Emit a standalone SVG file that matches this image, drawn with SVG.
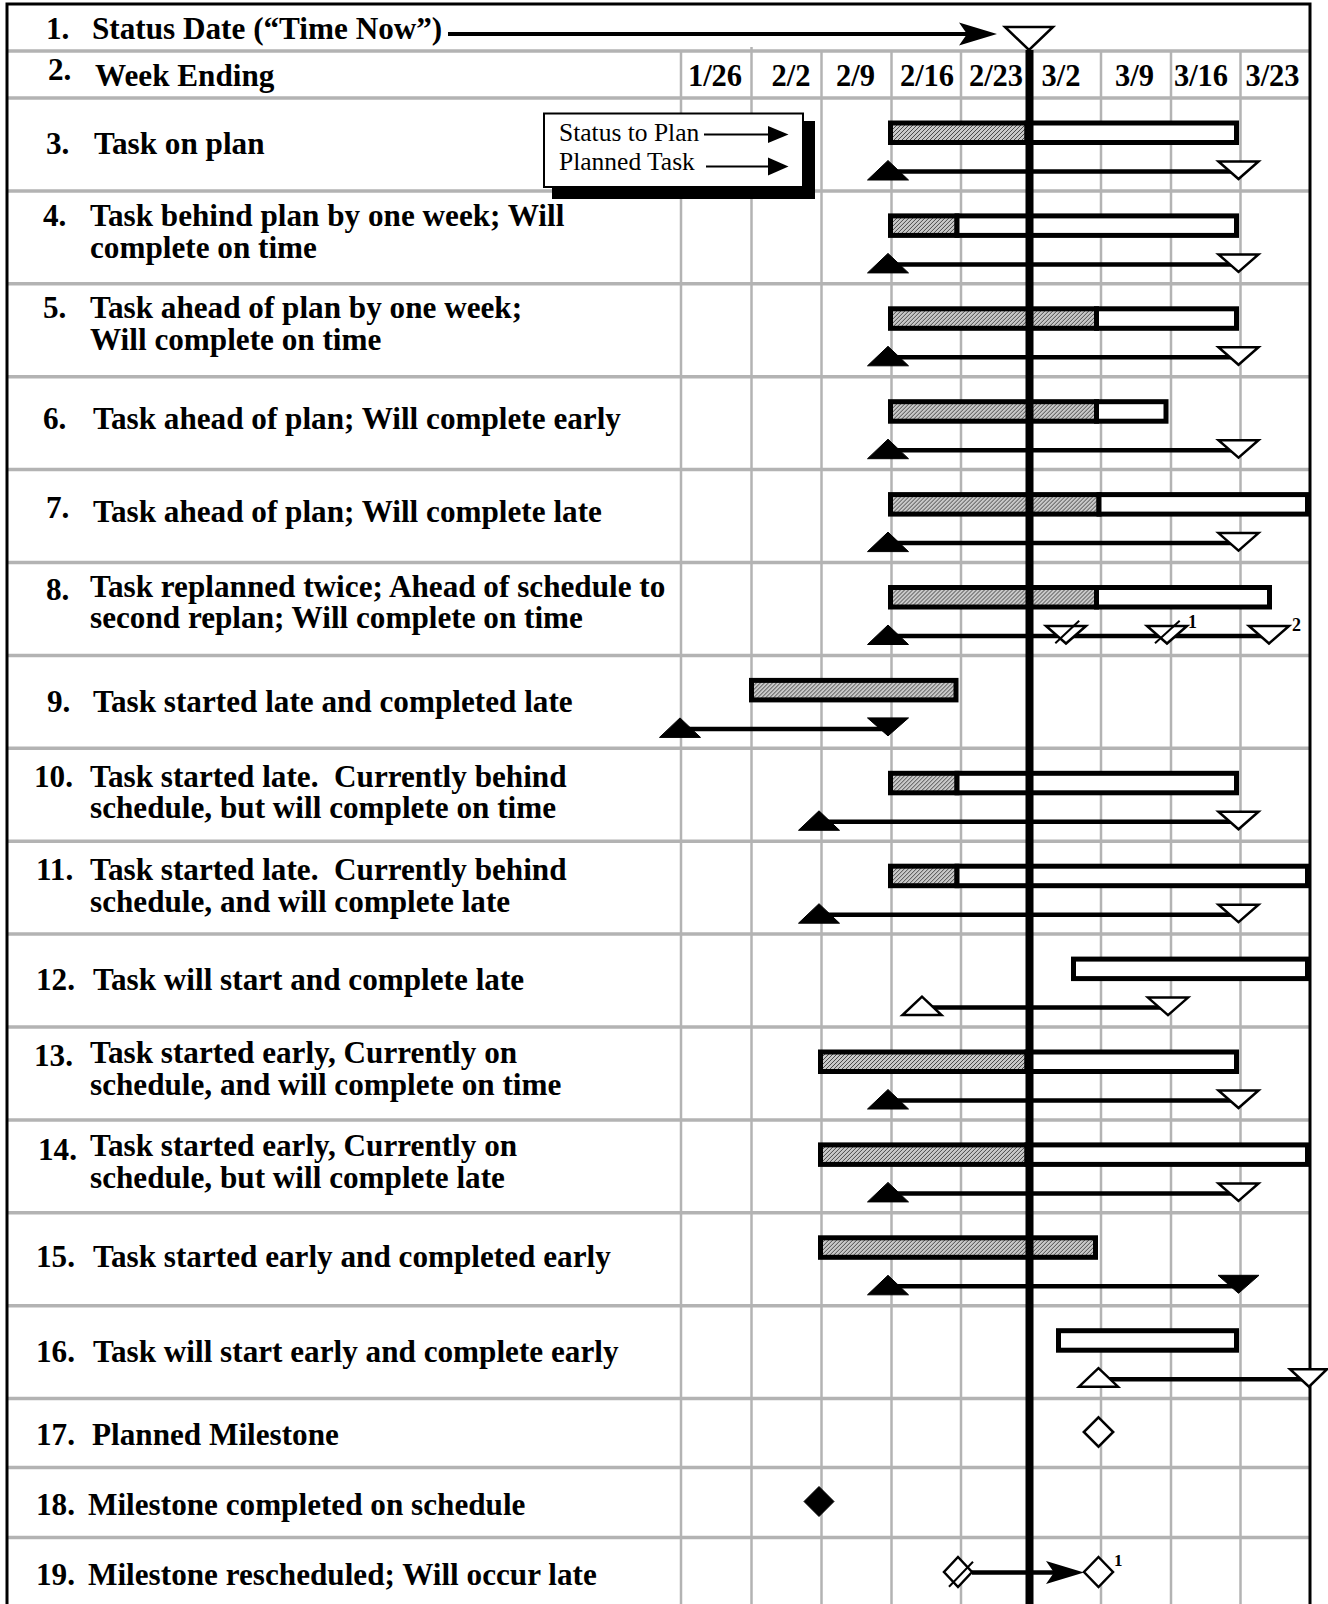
<svg xmlns="http://www.w3.org/2000/svg" width="1328" height="1604" viewBox="0 0 1328 1604">
<defs>
<pattern id="hatch" patternUnits="userSpaceOnUse" width="4" height="4">
<rect width="4" height="4" fill="#c8c8c8"/>
<path d="M-1,1 L1,-1 M0,4 L4,0 M3,5 L5,3" stroke="#4a4a4a" stroke-width="1"/>
</pattern>
<style>
.lbl{font-family:"Liberation Serif","Times New Roman",serif;font-weight:bold;font-size:31.2px;fill:#000;white-space:pre}
.hdr{font-family:"Liberation Serif","Times New Roman",serif;font-weight:bold;font-size:30.5px;fill:#000;text-anchor:middle}
.leg{font-family:"Liberation Serif","Times New Roman",serif;font-size:25.5px;fill:#000}
.sup{font-family:"Liberation Serif","Times New Roman",serif;font-weight:bold;font-size:18px;fill:#000}
.gv{stroke:#b3b3b3;stroke-width:2.5}
.gh{stroke:#b3b3b3;stroke-width:3.5}
.bar{stroke:#000;stroke-width:5;fill:#fff}
.done{fill:url(#hatch)}
.ln{stroke:#000;stroke-width:4.5;fill:none}
.tf{fill:#000;stroke:#000;stroke-width:1;stroke-linejoin:miter}
.to{fill:#fff;stroke:#000;stroke-width:2.5;stroke-linejoin:miter}
.sl{stroke:#000;stroke-width:2}
</style>
</defs>
<rect width="1328" height="1604" fill="#fff"/>
<g id="grid">
<g class="gh">
<line x1="7" y1="51" x2="1310" y2="51"/>
<line x1="7" y1="98" x2="1310" y2="98"/>
<line x1="7" y1="190.9" x2="1310" y2="190.9"/>
<line x1="7" y1="283.8" x2="1310" y2="283.8"/>
<line x1="7" y1="376.7" x2="1310" y2="376.7"/>
<line x1="7" y1="469.6" x2="1310" y2="469.6"/>
<line x1="7" y1="562.5" x2="1310" y2="562.5"/>
<line x1="7" y1="655.4" x2="1310" y2="655.4"/>
<line x1="7" y1="748.3" x2="1310" y2="748.3"/>
<line x1="7" y1="841.2" x2="1310" y2="841.2"/>
<line x1="7" y1="934.1" x2="1310" y2="934.1"/>
<line x1="7" y1="1027" x2="1310" y2="1027"/>
<line x1="7" y1="1119.9" x2="1310" y2="1119.9"/>
<line x1="7" y1="1212.8" x2="1310" y2="1212.8"/>
<line x1="7" y1="1305.7" x2="1310" y2="1305.7"/>
<line x1="7" y1="1398.6" x2="1310" y2="1398.6"/>
<line x1="7" y1="1467.5" x2="1310" y2="1467.5"/>
<line x1="7" y1="1537.5" x2="1310" y2="1537.5"/>
</g>
<g class="gv">
<line x1="681" y1="51" x2="681" y2="1604"/>
<line x1="751.5" y1="47" x2="751.5" y2="1604"/>
<line x1="821.5" y1="51" x2="821.5" y2="1604"/>
<line x1="891.5" y1="51" x2="891.5" y2="1604"/>
<line x1="961" y1="51" x2="961" y2="1604"/>
<line x1="1101" y1="51" x2="1101" y2="1604"/>
<line x1="1171" y1="51" x2="1171" y2="1604"/>
<line x1="1240.5" y1="51" x2="1240.5" y2="1604"/>
</g>
<path d="M7,1604 V4 H1310 V1604" fill="none" stroke="#000" stroke-width="3"/>
</g>

<g id="header">
<text class="lbl" x="46" y="39">1.</text>
<text class="lbl" x="92" y="39">Status Date (“Time Now”)</text>
<text class="lbl" x="48" y="80">2.</text>
<text class="lbl" x="95" y="86">Week Ending</text>
<text class="hdr" x="715" y="86">1/26</text>
<text class="hdr" x="791" y="86">2/2</text>
<text class="hdr" x="855.5" y="86">2/9</text>
<text class="hdr" x="927" y="86">2/16</text>
<text class="hdr" x="996" y="86">2/23</text>
<text class="hdr" x="1061" y="86">3/2</text>
<text class="hdr" x="1134.5" y="86">3/9</text>
<text class="hdr" x="1201" y="86">3/16</text>
<text class="hdr" x="1272.5" y="86">3/23</text>
</g>

<g id="legend">
<rect x="552" y="121" width="263" height="78" fill="#000"/>
<rect x="544" y="113.5" width="259" height="73.5" fill="#fff" stroke="#000" stroke-width="2"/>
<text class="leg" x="559" y="140.5">Status to Plan</text>
<text class="leg" x="559" y="170">Planned Task</text>
<line x1="704" y1="134.5" x2="770" y2="134.5" stroke="#000" stroke-width="2"/>
<polygon points="768,126 788.5,134.5 768,143" fill="#000"/>
<line x1="706" y1="166.5" x2="770" y2="166.5" stroke="#000" stroke-width="2"/>
<polygon points="768,157.5 788.5,166.5 768,175.5" fill="#000"/>
</g>

<g id="row3" transform="translate(0,98)">
<text class="lbl" x="46" y="55.5">3.</text>
<text class="lbl" x="94" y="55.5">Task on plan</text>
<rect class="bar done" x="890.5" y="25" width="136.5" height="19.5"/>
<rect class="bar" x="1027" y="25" width="209.5" height="19.5"/>
<line class="ln" x1="888" y1="73.5" x2="1238.5" y2="73.5"/>
<polygon class="tf" points="888,62.5 867.5,82 908.5,82"/>
<polygon class="to" points="1218.5,63.5 1258.5,63.5 1238.5,81"/>
</g>

<g id="row4" transform="translate(0,190.9)">
<text class="lbl" x="43" y="35.6">4.</text>
<text class="lbl" x="90" y="35.6">Task behind plan by one week; Will</text>
<text class="lbl" x="90" y="67.2">complete on time</text>
<rect class="bar done" x="890.5" y="25" width="66.5" height="19.5"/>
<rect class="bar" x="957" y="25" width="279.5" height="19.5"/>
<line class="ln" x1="888" y1="73.5" x2="1238.5" y2="73.5"/>
<polygon class="tf" points="888,62.5 867.5,82 908.5,82"/>
<polygon class="to" points="1218.5,63.5 1258.5,63.5 1238.5,81"/>
</g>

<g id="row5" transform="translate(0,283.8)">
<text class="lbl" x="43" y="34.5">5.</text>
<text class="lbl" x="90" y="34.5">Task ahead of plan by one week;</text>
<text class="lbl" x="90" y="66.2">Will complete on time</text>
<rect class="bar done" x="890.5" y="25" width="206" height="19.5"/>
<rect class="bar" x="1096.5" y="25" width="140" height="19.5"/>
<line class="ln" x1="888" y1="73.5" x2="1238.5" y2="73.5"/>
<polygon class="tf" points="888,62.5 867.5,82 908.5,82"/>
<polygon class="to" points="1218.5,63.5 1258.5,63.5 1238.5,81"/>
</g>

<g id="row6" transform="translate(0,376.7)">
<text class="lbl" x="43" y="52.5">6.</text>
<text class="lbl" x="93" y="52.5">Task ahead of plan; Will complete early</text>
<rect class="bar done" x="890.5" y="25" width="206" height="19.5"/>
<rect class="bar" x="1096.5" y="25" width="69.5" height="19.5"/>
<line class="ln" x1="888" y1="73.5" x2="1238.5" y2="73.5"/>
<polygon class="tf" points="888,62.5 867.5,82 908.5,82"/>
<polygon class="to" points="1218.5,63.5 1258.5,63.5 1238.5,81"/>
</g>

<g id="row7" transform="translate(0,469.6)">
<text class="lbl" x="46" y="48.5">7.</text>
<text class="lbl" x="93" y="52.5">Task ahead of plan; Will complete late</text>
<rect class="bar done" x="890.5" y="25" width="208.5" height="19.5"/>
<rect class="bar" x="1099" y="25" width="208.5" height="19.5"/>
<line class="ln" x1="888" y1="73.5" x2="1238.5" y2="73.5"/>
<polygon class="tf" points="888,62.5 867.5,82 908.5,82"/>
<polygon class="to" points="1218.5,63.5 1258.5,63.5 1238.5,81"/>
</g>

<g id="row8" transform="translate(0,562.5)">
<text class="lbl" x="46" y="37.5">8.</text>
<text class="lbl" x="90" y="34.2">Task replanned twice; Ahead of schedule to</text>
<text class="lbl" x="90" y="65.8">second replan; Will complete on time</text>
<rect class="bar done" x="890.5" y="25" width="206" height="19.5"/>
<rect class="bar" x="1096.5" y="25" width="173" height="19.5"/>
<line class="ln" x1="888" y1="73.5" x2="1269" y2="73.5"/>
<polygon class="tf" points="888,62.5 867.5,82 908.5,82"/>
<polygon class="to" points="1046,63.5 1086,63.5 1066,81"/>
<line class="sl" x1="1055.3" y1="80.8" x2="1079.2" y2="58.2"/>
<polygon class="to" points="1147,63.5 1187,63.5 1167,81"/>
<line class="sl" x1="1155" y1="80.8" x2="1179.7" y2="58.2"/>
<text class="sup" x="1188" y="65.5">1</text>
<polygon class="to" points="1249,63.5 1289,63.5 1269,81"/>
<text class="sup" x="1292" y="68">2</text>
</g>

<g id="row9" transform="translate(0,655.4)">
<text class="lbl" x="47" y="56.5">9.</text>
<text class="lbl" x="93" y="56.5">Task started late and completed late</text>
<rect class="bar done" x="751.5" y="25" width="204.5" height="19.5"/>
<line class="ln" x1="680" y1="73.5" x2="888" y2="73.5"/>
<polygon class="tf" points="680,62.5 659.5,82 700.5,82"/>
<polygon class="tf" points="867.5,62.5 908.5,62.5 888,80.5"/>
</g>

<g id="row10" transform="translate(0,748.3)">
<text class="lbl" x="34" y="38.4">10.</text>
<text class="lbl" x="90" y="38.4">Task started late.  Currently behind</text>
<text class="lbl" x="90" y="70">schedule, but will complete on time</text>
<rect class="bar done" x="890.5" y="25" width="66.5" height="19.5"/>
<rect class="bar" x="957" y="25" width="279.5" height="19.5"/>
<line class="ln" x1="819" y1="73.5" x2="1238.5" y2="73.5"/>
<polygon class="tf" points="819,62.5 798.5,82 839.5,82"/>
<polygon class="to" points="1218.5,63.5 1258.5,63.5 1238.5,81"/>
</g>

<g id="row11" transform="translate(0,841.2)">
<text class="lbl" x="36" y="38.8">11.</text>
<text class="lbl" x="90" y="38.8">Task started late.  Currently behind</text>
<text class="lbl" x="90" y="70.5">schedule, and will complete late</text>
<rect class="bar done" x="890.5" y="25" width="66.5" height="19.5"/>
<rect class="bar" x="957" y="25" width="350.5" height="19.5"/>
<line class="ln" x1="819" y1="73.5" x2="1238.5" y2="73.5"/>
<polygon class="tf" points="819,62.5 798.5,82 839.5,82"/>
<polygon class="to" points="1218.5,63.5 1258.5,63.5 1238.5,81"/>
</g>

<g id="row12" transform="translate(0,934.1)">
<text class="lbl" x="36" y="56">12.</text>
<text class="lbl" x="93" y="56">Task will start and complete late</text>
<rect class="bar" x="1073.5" y="25" width="234" height="19.5"/>
<line class="ln" x1="922" y1="73.5" x2="1168" y2="73.5"/>
<polygon class="to" points="922,62.5 902.5,81 941.5,81"/>
<polygon class="to" points="1148,63.5 1188,63.5 1168,81"/>
</g>

<g id="row13" transform="translate(0,1027)">
<text class="lbl" x="34" y="39">13.</text>
<text class="lbl" x="90" y="36.3">Task started early, Currently on</text>
<text class="lbl" x="90" y="68">schedule, and will complete on time</text>
<rect class="bar done" x="820.5" y="25" width="206.5" height="19.5"/>
<rect class="bar" x="1027" y="25" width="209.5" height="19.5"/>
<line class="ln" x1="888" y1="73.5" x2="1238.5" y2="73.5"/>
<polygon class="tf" points="888,62.5 867.5,82 908.5,82"/>
<polygon class="to" points="1218.5,63.5 1258.5,63.5 1238.5,81"/>
</g>

<g id="row14" transform="translate(0,1119.9)">
<text class="lbl" x="38" y="40">14.</text>
<text class="lbl" x="90" y="36.2">Task started early, Currently on</text>
<text class="lbl" x="90" y="67.8">schedule, but will complete late</text>
<rect class="bar done" x="820.5" y="25" width="206.5" height="19.5"/>
<rect class="bar" x="1027" y="25" width="280.5" height="19.5"/>
<line class="ln" x1="888" y1="73.5" x2="1238.5" y2="73.5"/>
<polygon class="tf" points="888,62.5 867.5,82 908.5,82"/>
<polygon class="to" points="1218.5,63.5 1258.5,63.5 1238.5,81"/>
</g>

<g id="row15" transform="translate(0,1212.8)">
<text class="lbl" x="36" y="54.5">15.</text>
<text class="lbl" x="93" y="54.5">Task started early and completed early</text>
<rect class="bar done" x="820.5" y="25" width="275" height="19.5"/>
<line class="ln" x1="888" y1="73.5" x2="1238.5" y2="73.5"/>
<polygon class="tf" points="888,62.5 867.5,82 908.5,82"/>
<polygon class="tf" points="1218,62.5 1259,62.5 1238.5,80.5"/>
</g>

<g id="row16" transform="translate(0,1305.7)">
<text class="lbl" x="36" y="56">16.</text>
<text class="lbl" x="93" y="56">Task will start early and complete early</text>
<rect class="bar" x="1058.5" y="25" width="178" height="19.5"/>
<line class="ln" x1="1098.5" y1="73.5" x2="1309" y2="73.5"/>
<polygon class="to" points="1098.5,62.5 1079,81 1118,81"/>
<polygon class="to" points="1290,63.5 1327,63.5 1309,81"/>
</g>

<g id="row17" transform="translate(0,1398.6)">
<text class="lbl" x="36" y="46.5">17.</text>
<text class="lbl" x="92" y="46.5">Planned Milestone</text>
<polygon class="to" points="1098.5,18.7 1113.2,33.4 1098.5,48.1 1083.8,33.4"/>
</g>

<g id="row18" transform="translate(0,1467.5)">
<text class="lbl" x="36" y="47.5">18.</text>
<text class="lbl" x="88" y="47.5">Milestone completed on schedule</text>
<polygon class="tf" points="819,19 834,34 819,49 804,34"/>
</g>

<g id="row19" transform="translate(0,1537.5)">
<text class="lbl" x="36" y="47.5">19.</text>
<text class="lbl" x="88" y="47.5">Milestone rescheduled; Will occur late</text>
<polygon class="to" points="958,19.5 972,34.5 958,49.5 944,34.5"/>
<line class="sl" x1="949" y1="49.2" x2="973" y2="24.2"/>
<polygon class="to" points="1098.5,19.5 1113,34.5 1098.5,49.5 1084,34.5"/>
<text class="sup" x="1114" y="28" style="font-size:17px">1</text>
</g>

<g id="timenow">
<line x1="1029.5" y1="50" x2="1029.5" y2="1604" stroke="#000" stroke-width="8"/>
<polygon class="to" points="1005,27 1053,27 1029,50"/>
</g>

<g id="connectors">
<line x1="448" y1="34" x2="968" y2="34" stroke="#000" stroke-width="4"/>
<path d="M997,34 L959,22.5 L967,34 L959,45.5 Z" fill="#000"/>
<line x1="972" y1="1572.5" x2="1056" y2="1572.5" stroke="#000" stroke-width="4.5"/>
<path d="M1084,1572.5 L1046,1561 L1054,1572.5 L1046,1584 Z" fill="#000"/>
</g>
</svg>
